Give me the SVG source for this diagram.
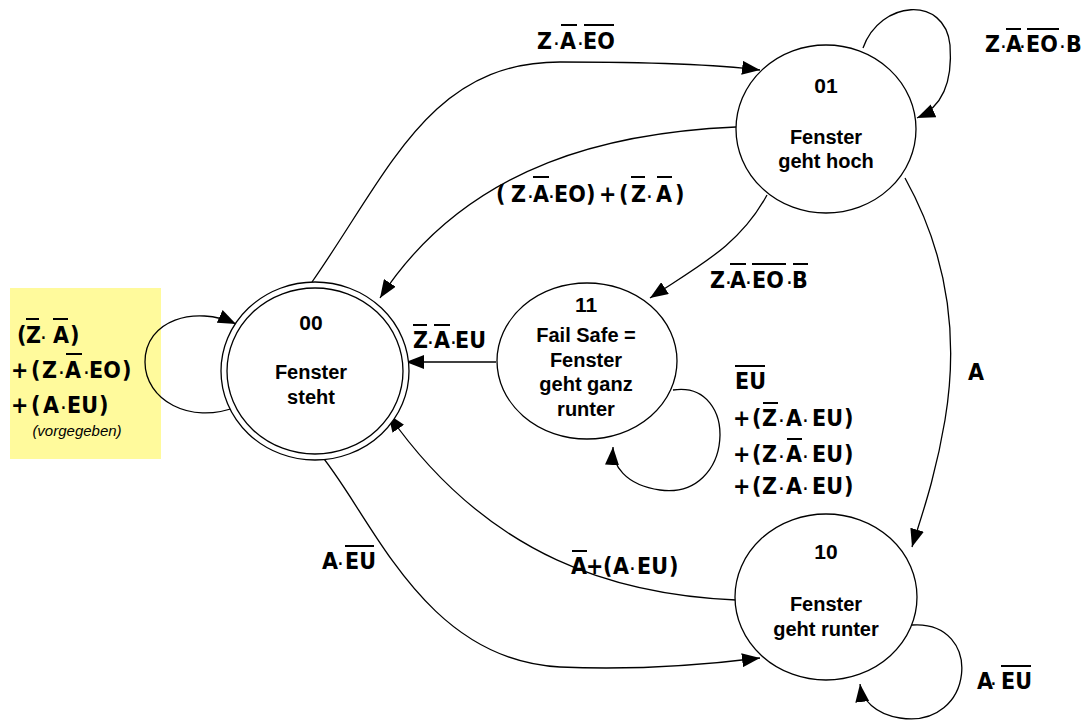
<svg xmlns="http://www.w3.org/2000/svg" width="1089" height="722" viewBox="0 0 1089 722">
  <defs>
    <marker id="arrow" viewBox="0 0 18 14" refX="18" refY="7" markerWidth="18" markerHeight="14" markerUnits="userSpaceOnUse" orient="auto">
      <path d="M0,0 L18,7 L0,14 z" fill="#000"/>
    </marker>
    <style>
      .node { fill: #fff; stroke: #000; stroke-width: 1.3; }
      .nt { font-family: "Liberation Sans", Arial, sans-serif; font-weight: bold; font-size: 20px; text-anchor: middle; fill: #000; }
      .num { font-size: 21px; }
      .edge { fill: none; stroke: #000; stroke-width: 1.3; marker-end: url(#arrow); }
      .lbl { font-family: "DejaVu Sans Condensed", "DejaVu Sans", sans-serif; font-stretch: condensed; font-weight: bold; font-size: 23px; fill: #000; }
      .d { font-size: 14px; }
      .bar { stroke: #000; stroke-width: 2; }
      .note { font-family: "Liberation Sans", Arial, sans-serif; font-style: italic; font-size: 15px; fill: #000; text-anchor: middle; }
    </style>
  </defs>

  <rect width="1089" height="722" fill="#fff"/>

  <!-- reset condition box -->
  <rect x="10" y="288" width="151" height="171" fill="#FFFA9C"/>

  <!-- transitions -->
  <g id="connectors">
    <!-- 00 -> 01 -->
    <path class="edge" d="M312,282 C390,170 430,62 560,62 C650,62 720,65 760,70"/>
    <!-- 01 -> 00 -->
    <path class="edge" d="M736,127 C620,132 470,160 380,298"/>
    <!-- 01 -> 11 -->
    <path class="edge" d="M767,195 C740,245 700,265 650,298"/>
    <!-- 11 -> 00 -->
    <path class="edge" d="M496,362 L406,362"/>
    <!-- 11 self loop -->
    <path class="edge" d="M673,390 C740,380 735,500 660,490 C625,485 612,465 613,447"/>
    <!-- 01 -> 10 -->
    <path class="edge" d="M905,178 C945,250 960,330 945,420 C935,480 920,520 912,547"/>
    <!-- 01 self loop -->
    <path class="edge" d="M863,48 C880,0 945,-5 950,45 C953,85 940,108 917,118"/>
    <!-- 00 -> 10 -->
    <path class="edge" d="M316,449 C370,510 420,660 560,667 C650,671 720,663 760,658"/>
    <!-- 10 -> 00 -->
    <path class="edge" d="M736,600 C620,595 490,560 388,414"/>
    <!-- 10 self loop -->
    <path class="edge" d="M912,625 C985,620 975,730 900,718 C875,714 862,700 860,684"/>
    <!-- 00 self loop -->
    <path class="edge" d="M236,407 C190,425 145,400 145,362 C145,320 195,305 236,324"/>
  </g>

  <!-- states -->
  <g id="state-00">
    <ellipse class="node" cx="315" cy="371" rx="94" ry="89"/>
    <ellipse class="node" cx="315" cy="371" rx="88" ry="83"/>
    <text class="nt num" x="311" y="330">00</text>
    <text class="nt" x="311" y="379">Fenster</text>
    <text class="nt" x="311" y="404">steht</text>
  </g>
  <g id="state-01">
    <ellipse class="node" cx="826" cy="129" rx="90" ry="84"/>
    <text class="nt num" x="826" y="93">01</text>
    <text class="nt" x="826" y="144">Fenster</text>
    <text class="nt" x="826" y="168">geht hoch</text>
  </g>
  <g id="state-11">
    <ellipse class="node" cx="587" cy="361" rx="90" ry="78"/>
    <text class="nt num" x="586" y="312">11</text>
    <text class="nt" x="586" y="342">Fail Safe =</text>
    <text class="nt" x="586" y="367">Fenster</text>
    <text class="nt" x="586" y="391">geht ganz</text>
    <text class="nt" x="586" y="416">runter</text>
  </g>
  <g id="state-10">
    <ellipse class="node" cx="826" cy="597" rx="91" ry="83"/>
    <text class="nt num" x="826" y="559">10</text>
    <text class="nt" x="826" y="611">Fenster</text>
    <text class="nt" x="826" y="636">geht runter</text>
  </g>

  <!-- transition conditions -->
  <g id="labels">
    <!-- Z·A'·EO' -->
    <text class="lbl" y="49"><tspan x="537">Z</tspan><tspan class="d" x="554">·</tspan><tspan x="560">A</tspan><tspan class="d" x="578">·</tspan><tspan x="583">EO</tspan></text>
    <line class="bar" x1="561" y1="25" x2="577" y2="25"/>
    <line class="bar" x1="584" y1="25" x2="614" y2="25"/>

    <!-- Z·A'·EO'·B -->
    <text class="lbl" y="52"><tspan x="985">Z</tspan><tspan class="d" x="1001">·</tspan><tspan x="1006">A</tspan><tspan class="d" x="1020">·</tspan><tspan x="1026">EO</tspan><tspan class="d" x="1060">·</tspan><tspan x="1066">B</tspan></text>
    <line class="bar" x1="1006" y1="29" x2="1021" y2="29"/>
    <line class="bar" x1="1027" y1="29" x2="1059" y2="29"/>

    <!-- (Z·A'·EO)+(Z'·A') -->
    <text class="lbl" y="202"><tspan x="496">(</tspan><tspan x="511">Z</tspan><tspan class="d" x="528">·</tspan><tspan x="533">A</tspan><tspan class="d" x="549">·</tspan><tspan x="554">EO</tspan><tspan x="586">)</tspan><tspan x="599">+</tspan><tspan x="619">(</tspan><tspan x="631">Z</tspan><tspan class="d" x="647">·</tspan><tspan x="656">A</tspan><tspan x="675">)</tspan></text>
    <line class="bar" x1="533" y1="177" x2="549" y2="177"/>
    <line class="bar" x1="631" y1="177" x2="645" y2="177"/>
    <line class="bar" x1="657" y1="177" x2="672" y2="177"/>

    <!-- Z·A'·EO'·B' -->
    <text class="lbl" y="288"><tspan x="710">Z</tspan><tspan class="d" x="726">·</tspan><tspan x="730">A</tspan><tspan class="d" x="746">·</tspan><tspan x="752">EO</tspan><tspan class="d" x="787">·</tspan><tspan x="792">B</tspan></text>
    <line class="bar" x1="730" y1="264" x2="746" y2="264"/>
    <line class="bar" x1="752" y1="264" x2="786" y2="264"/>
    <line class="bar" x1="793" y1="264" x2="808" y2="264"/>

    <!-- Z'·A'·EU -->
    <text class="lbl" y="348"><tspan x="413">Z</tspan><tspan class="d" x="428">·</tspan><tspan x="434">A</tspan><tspan class="d" x="451">·</tspan><tspan x="455">EU</tspan></text>
    <line class="bar" x1="413" y1="325" x2="427" y2="325"/>
    <line class="bar" x1="434" y1="325" x2="450" y2="325"/>

    <!-- reset condition for 00 -->
    <text class="lbl" y="343"><tspan x="17">(</tspan><tspan x="26">Z</tspan><tspan class="d" x="41">·</tspan><tspan x="53">A</tspan><tspan x="70">)</tspan></text>
    <line class="bar" x1="26" y1="319" x2="39" y2="319"/>
    <line class="bar" x1="53" y1="319" x2="68" y2="319"/>
    <text class="lbl" y="378"><tspan x="11">+</tspan><tspan x="31">(</tspan><tspan x="42">Z</tspan><tspan class="d" x="59">·</tspan><tspan x="65">A</tspan><tspan class="d" x="84">·</tspan><tspan x="89">EO</tspan><tspan x="122">)</tspan></text>
    <line class="bar" x1="66" y1="354" x2="82" y2="354"/>
    <text class="lbl" y="413"><tspan x="11">+</tspan><tspan x="31">(</tspan><tspan x="43">A</tspan><tspan class="d" x="61">·</tspan><tspan x="67">EU</tspan><tspan x="99">)</tspan></text>
    <text class="note" x="77" y="436">(vorgegeben)</text>

    <!-- 11 self loop condition -->
    <text class="lbl" y="389"><tspan x="735">EU</tspan></text>
    <line class="bar" x1="735" y1="366" x2="765" y2="366"/>
    <text class="lbl" y="426"><tspan x="733">+</tspan><tspan x="752">(</tspan><tspan x="762">Z</tspan><tspan class="d" x="779">·</tspan><tspan x="786">A</tspan><tspan class="d" x="803">·</tspan><tspan x="812">EU</tspan><tspan x="844">)</tspan></text>
    <line class="bar" x1="763" y1="403" x2="778" y2="403"/>
    <text class="lbl" y="462"><tspan x="733">+</tspan><tspan x="752">(</tspan><tspan x="762">Z</tspan><tspan class="d" x="779">·</tspan><tspan x="786">A</tspan><tspan class="d" x="803">·</tspan><tspan x="812">EU</tspan><tspan x="844">)</tspan></text>
    <line class="bar" x1="787" y1="439" x2="802" y2="439"/>
    <text class="lbl" y="494"><tspan x="733">+</tspan><tspan x="752">(</tspan><tspan x="762">Z</tspan><tspan class="d" x="779">·</tspan><tspan x="786">A</tspan><tspan class="d" x="803">·</tspan><tspan x="812">EU</tspan><tspan x="844">)</tspan></text>

    <!-- A -->
    <text class="lbl" x="968" y="380">A</text>

    <!-- A·EU' (00 -> 10) -->
    <text class="lbl" y="569"><tspan x="322">A</tspan><tspan class="d" x="338">·</tspan><tspan x="345">EU</tspan></text>
    <line class="bar" x1="345" y1="546" x2="374" y2="546"/>

    <!-- A'+(A·EU) -->
    <text class="lbl" y="574"><tspan x="571">A</tspan><tspan x="586">+</tspan><tspan x="603">(</tspan><tspan x="613">A</tspan><tspan class="d" x="630">·</tspan><tspan x="637">EU</tspan><tspan x="669">)</tspan></text>
    <line class="bar" x1="572" y1="551" x2="587" y2="551"/>

    <!-- A·EU' (10 self loop) -->
    <text class="lbl" y="689"><tspan x="977">A</tspan><tspan class="d" x="991">·</tspan><tspan x="1001">EU</tspan></text>
    <line class="bar" x1="1001" y1="666" x2="1031" y2="666"/>
  </g>
</svg>
